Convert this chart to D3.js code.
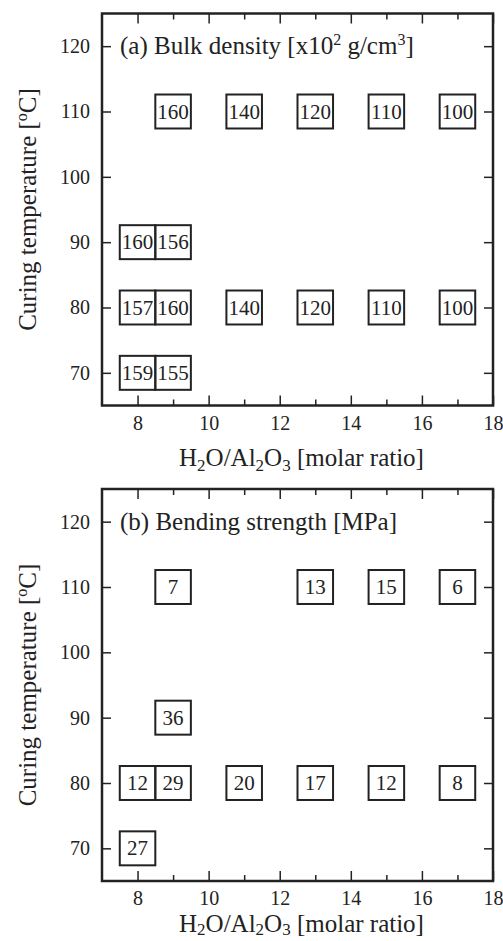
<!DOCTYPE html>
<html>
<head>
<meta charset="utf-8">
<style>
  body { margin: 0; background: #fff; }
  svg { display: block; font-family: "Liberation Serif", "Times New Roman", serif; }
</style>
</head>
<body>
<script src="https://cdn.jsdelivr.net/npm/d3@7"></script>
<script>

// data
var ratioA   = [9, 11, 13, 15, 17, 8, 9, 8, 9, 11, 13, 15, 17, 8, 9];
var tempA    = [110, 110, 110, 110, 110, 90, 90, 80, 80, 80, 80, 80, 80, 70, 70];
var density  = [160, 140, 120, 110, 100, 160, 156, 157, 160, 140, 120, 110, 100, 159, 155];

var ratioB   = [9, 13, 15, 17, 9, 8, 9, 11, 13, 15, 17, 8];
var tempB    = [110, 110, 110, 110, 90, 80, 80, 80, 80, 80, 80, 70];
var strength = [7, 13, 15, 6, 36, 12, 29, 20, 17, 12, 8, 27];

var xMajor = [8, 10, 12, 14, 16, 18];
var xMinor = [9, 11, 13, 15, 17];
var yTicks = [70, 80, 90, 100, 110, 120];

var W = 503, H = 941;
var svg = d3.select("body").append("svg").attr("width", W).attr("height", H);

var left = 102, right = 493, plotH = 392;

var x = d3.scaleLinear().domain([7, 18]).range([left, right]);

function panel(top, xs, ts, vs, titleParts, labelGap, subDy) {
  var y = d3.scaleLinear().domain([65, 125]).range([top + plotH, top]);
  var g = svg.append("g");

  // axes, ticks all pointing inside
  var axes = [
    [d3.axisBottom(x).tickValues(xMajor).tickSize(-10).tickPadding(10), `translate(0,${top + plotH})`],
    [d3.axisBottom(x).tickValues(xMinor).tickSize(-6).tickFormat(""), `translate(0,${top + plotH})`],
    [d3.axisTop(x).tickValues(xMajor).tickSize(-10).tickFormat(""), `translate(0,${top})`],
    [d3.axisTop(x).tickValues(xMinor).tickSize(-6).tickFormat(""), `translate(0,${top})`],
    [d3.axisLeft(y).tickValues(yTicks).tickSize(-9).tickPadding(12), `translate(${left},0)`],
    [d3.axisRight(y).tickValues(yTicks).tickSize(-9).tickFormat(""), `translate(${right},0)`]
  ];
  axes.forEach(a => {
    var ag = g.append("g").attr("transform", a[1]).call(a[0]);
    ag.select(".domain").remove();
    ag.selectAll("line").attr("stroke", "#222").attr("stroke-width", 1.5);
    ag.selectAll("text").attr("fill", "#222").style("font-size", "20px").style("font-family", "Liberation Serif");
  });

  g.append("rect")
    .attr("x", left).attr("y", top)
    .attr("width", right - left).attr("height", plotH)
    .attr("fill", "none").attr("stroke", "#222").attr("stroke-width", 2.5);

  // boxes with the values
  var cells = g.selectAll(".cell").data(vs.map((v, i) => ({x: xs[i], t: ts[i], v: v})))
    .enter().append("g").attr("class", "cell");
  cells.append("rect")
    .attr("x", d => x(d.x - 0.5))
    .attr("y", d => y(d.t + 2.6))
    .attr("width", d => x(d.x + 0.5) - x(d.x - 0.5))
    .attr("height", d => y(d.t - 2.6) - y(d.t + 2.6))
    .attr("fill", "none").attr("stroke", "#222").attr("stroke-width", 2);
  cells.append("text")
    .attr("x", d => x(d.x))
    .attr("y", d => y(d.t) + 7)
    .attr("text-anchor", "middle")
    .attr("fill", "#222")
    .style("font-size", "21px")
    .text(d => d.v);

  // panel title
  var tt = g.append("text").attr("x", left + 18).attr("y", y(120) + 8)
    .attr("fill", "#222").style("font-size", "25px");
  titleParts.forEach(p => {
    if (p.sup) tt.append("tspan").attr("dy", -9).style("font-size", "16px").text(p.sup);
    else tt.append("tspan").attr("dy", p.after ? 9 : 0).text(p.t);
  });

  // x label
  var xl = g.append("text").attr("x", (left + right) / 2 + 4).attr("y", top + plotH + labelGap)
    .attr("text-anchor", "middle").attr("fill", "#222").style("font-size", "25px");
  xl.append("tspan").text("H");
  xl.append("tspan").attr("dy", subDy).style("font-size", "17px").text("2");
  xl.append("tspan").attr("dy", -subDy).text("O/Al");
  xl.append("tspan").attr("dy", subDy).style("font-size", "17px").text("2");
  xl.append("tspan").attr("dy", -subDy).text("O");
  xl.append("tspan").attr("dy", subDy).style("font-size", "17px").text("3");
  xl.append("tspan").attr("dy", -subDy).text(" [molar ratio]");

  // y label
  var yl = g.append("text")
    .attr("transform", `translate(36,${top + plotH / 2}) rotate(-90)`)
    .attr("text-anchor", "middle").attr("fill", "#222").style("font-size", "25px");
  yl.append("tspan").text("Curing temperature [");
  yl.append("tspan").attr("dy", -9).style("font-size", "16px").text("o");
  yl.append("tspan").attr("dy", 9).text("C]");
}

panel(13.5, ratioA, tempA, density, [
  {t: "(a) Bulk density [x10"}, {sup: "2"}, {t: " g/cm", after: true}, {sup: "3"}, {t: "]", after: true}
], 60, 5);
panel(489, ratioB, tempB, strength, [
  {t: "(b) Bending strength [MPa]"}
], 51, 3);

</script>
</body>
</html>
